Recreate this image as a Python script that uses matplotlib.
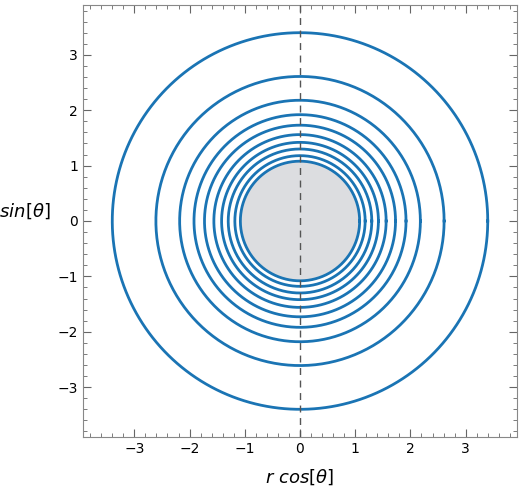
import matplotlib
matplotlib.use("Agg")
import matplotlib.pyplot as plt
import numpy as np
from matplotlib.ticker import MultipleLocator

radii = [3.40, 2.61, 2.18, 1.92, 1.73, 1.56, 1.42, 1.30, 1.18, 1.08]
disk_radius = 1.08
ticks = [-3, -2, -1, 0, 1, 2, 3]

fig = plt.figure(figsize=(5.2, 4.87), dpi=100)
ax = fig.add_axes([83 / 520, 50 / 487, 434 / 520, 432 / 487])

ax.add_patch(plt.Circle((0, 0), disk_radius, color="#dcdde0", zorder=1))
th = np.linspace(0, 2 * np.pi, 400)
for r in radii:
    ax.plot(r * np.cos(th), r * np.sin(th), color="#1a74b4", lw=2.0, zorder=2)
ax.axvline(0, color="#555555", lw=1, ls=(0, (5, 4)), zorder=3)

ax.set_xlim(-3.93, 3.93)
ax.set_ylim(-3.9, 3.9)
ax.set_xticks(ticks)
ax.set_yticks(ticks)
ax.xaxis.set_minor_locator(MultipleLocator(0.2))
ax.yaxis.set_minor_locator(MultipleLocator(0.2))
ax.tick_params(which="both", direction="in", top=True, right=True,
               labeltop=False, labelright=False, labelsize=10, color="#666666")
ax.tick_params(which="major", length=6)
ax.tick_params(which="minor", length=3)
for s in ax.spines.values():
    s.set_color("#888888")
ax.set_xticklabels(["\u22123", "\u22122", "\u22121", "0", "1", "2", "3"])
ax.set_yticklabels(["\u22123", "\u22122", "\u22121", "0", "1", "2", "3"])
ax.set_xlabel(r"$r\ cos[\theta]$", fontsize=13, labelpad=8)
ax.set_ylabel(r"$r\ sin[\theta]$", fontsize=13, rotation=0, labelpad=28)

fig.savefig("out.png", dpi=100)
